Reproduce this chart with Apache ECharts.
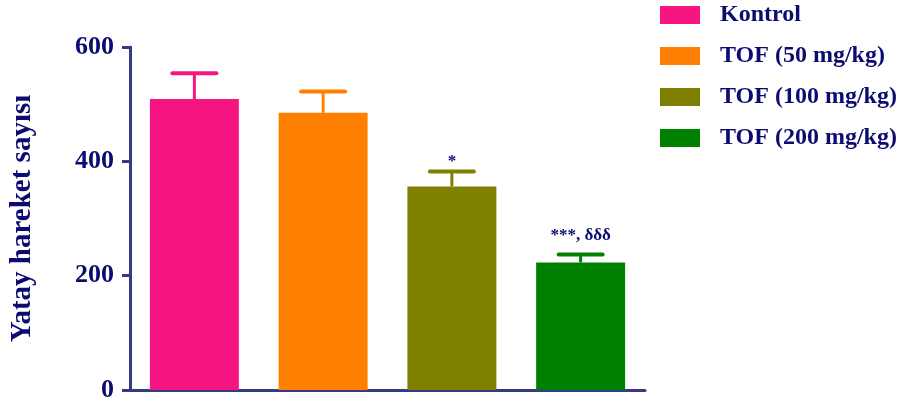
<!DOCTYPE html>
<html><head><meta charset="utf-8">
<script src="https://cdn.jsdelivr.net/npm/echarts@6/dist/echarts.min.js"></script>
<style>html,body{margin:0;padding:0;background:#fff}#c{width:901px;height:403px}</style>
</head><body><div id="c"></div>
<script>
const categories = ['Kontrol', 'TOF (50 mg/kg)', 'TOF (100 mg/kg)', 'TOF (200 mg/kg)'];
const means = [509, 485, 356, 223];
const sems = [45, 37, 26, 14];
const annotations = ['', '', '*', '***, δδδ'];
const colors = ['#f51681', '#ff8000', '#808000', '#008000'];
const yTicks = [0, 200, 400, 600];

const navy = '#0b0b72';
const axisCol = '#353b82';
const font = 'Liberation Serif';

const chart = echarts.init(document.getElementById('c'), null, {renderer: 'canvas'});

const barSeries = categories.map((name, i) => ({
  name: name,
  type: 'bar',
  barWidth: 89,
  barGap: '-100%',
  itemStyle: {color: colors[i]},
  data: categories.map((c, j) => j === i ? means[i] : '-'),
  z: 2
}));

const errSeries = {
  type: 'custom',
  z: 3,
  silent: true,
  data: categories.map((c, i) => [i, means[i], sems[i]]),
  renderItem: function (params, api) {
    const i = api.value(0);
    const m = api.value(1);
    const e = api.value(2);
    const base = api.coord([i, m]);
    const top = api.coord([i, m + e]);
    const half = 22;
    const col = colors[i];
    const children = [
      {type: 'line', shape: {x1: base[0], y1: base[1], x2: top[0], y2: top[1]}, style: {stroke: col, lineWidth: 3}},
      {type: 'line', shape: {x1: top[0] - half, y1: top[1], x2: top[0] + half, y2: top[1]}, style: {stroke: col, lineWidth: 4, lineCap: 'round'}}
    ];
    const a = annotations[i];
    if (a) {
      const gap = a.length > 1 ? 10 : 2;
      children.push({type: 'text', x: top[0], y: top[1] - gap, style: {
        text: a, fill: navy, font: 'bold 17px "' + font + '"', align: 'center', verticalAlign: 'bottom'
      }});
    }
    return {type: 'group', children: children};
  }
};

chart.setOption({
  animation: false,
  grid: {left: 130, right: 256, top: 47, bottom: 13, containLabel: false, outerBoundsMode: 'none'},
  legend: {
    orient: 'vertical', left: 660, top: 3, padding: 0, itemWidth: 40, itemHeight: 18, itemGap: 17,
    icon: 'rect',
    textStyle: {color: navy, fontFamily: font, fontWeight: 'bold', fontSize: 24, padding: [0, 0, 0, 15]},
    data: categories
  },
  xAxis: {
    type: 'category', data: categories,
    axisLine: {lineStyle: {color: axisCol, width: 3}},
    axisTick: {show: false}, axisLabel: {show: false}
  },
  yAxis: {
    type: 'value', min: 0, max: 600, interval: 200,
    name: 'Yatay hareket sayısı', nameLocation: 'middle', nameGap: 93, nameRotate: 90,
    nameTextStyle: {color: navy, fontFamily: font, fontWeight: 'bold', fontSize: 29},
    axisLine: {show: true, lineStyle: {color: axisCol, width: 3}},
    axisTick: {show: true, length: 8, lineStyle: {color: axisCol, width: 3}},
    axisLabel: {color: navy, fontFamily: font, fontWeight: 'bold', fontSize: 26, margin: 16,
      formatter: v => yTicks.includes(v) ? String(v) : ''},
    splitLine: {show: false}
  },
  series: [...barSeries, errSeries]
});
</script></body></html>
